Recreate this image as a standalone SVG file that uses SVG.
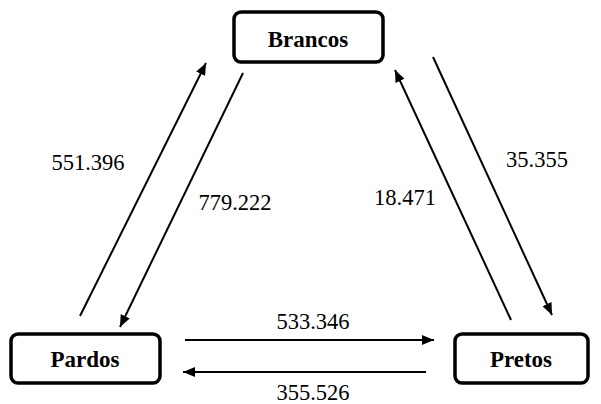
<svg xmlns="http://www.w3.org/2000/svg" width="601" height="404" viewBox="0 0 601 404">
<style>
.box{fill:#fff;stroke:#000;stroke-width:3.5}
.lbl{font-family:"Liberation Serif","Times New Roman",serif;font-weight:bold;font-size:23px;text-anchor:middle;fill:#000}
.num{font-family:"Liberation Serif","Times New Roman",serif;font-size:22.5px;text-anchor:middle;fill:#000}
.con{stroke:#000;stroke-width:2;fill:none;marker-end:url(#ah)}
</style>
<defs>
<marker id="ah" viewBox="0 0 12 10" refX="12" refY="5" markerWidth="12" markerHeight="10" markerUnits="userSpaceOnUse" orient="auto">
<path d="M0,0 L12,5 L0,10 z" fill="#000"/>
</marker>
</defs>
<g id="brancos">
<rect class="box" x="234" y="12" width="149" height="50" rx="7"/>
<text class="lbl" x="308" y="47">Brancos</text>
</g>
<g id="pardos">
<rect class="box" x="11" y="334" width="149" height="49" rx="7"/>
<text class="lbl" x="85" y="367">Pardos</text>
</g>
<g id="pretos">
<rect class="box" x="455" y="334" width="133" height="49" rx="7"/>
<text class="lbl" x="521" y="367">Pretos</text>
</g>
<g id="connectors">
<line class="con" x1="80" y1="316" x2="206" y2="63"/>
<line class="con" x1="243" y1="73" x2="120" y2="327"/>
<line class="con" x1="433" y1="57" x2="552" y2="315"/>
<line class="con" x1="511" y1="320" x2="395" y2="70"/>
<line class="con" x1="185" y1="340" x2="434" y2="340"/>
<line class="con" x1="426" y1="372" x2="183" y2="372"/>
<text class="num" x="88" y="170">551.396</text>
<text class="num" x="235" y="210">779.222</text>
<text class="num" x="537" y="167">35.355</text>
<text class="num" x="405" y="205">18.471</text>
<text class="num" x="313" y="329">533.346</text>
<text class="num" x="313" y="400">355.526</text>
</g>
</svg>
